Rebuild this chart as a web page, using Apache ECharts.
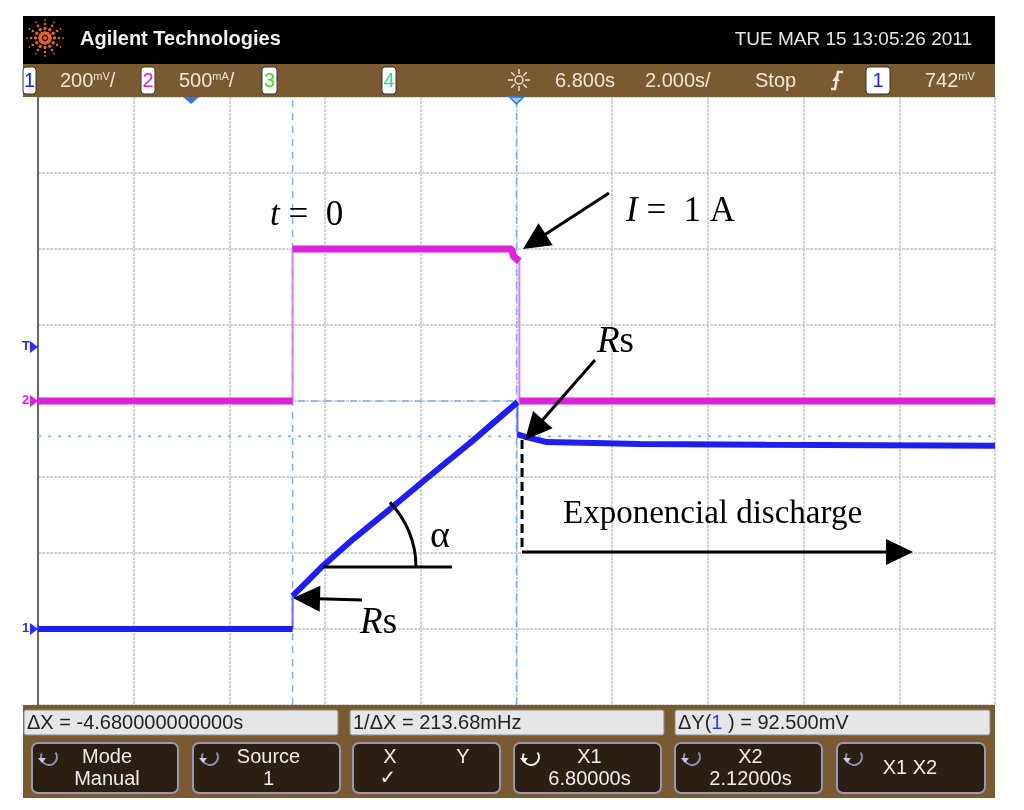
<!DOCTYPE html>
<html><head><meta charset="utf-8">
<script src="https://cdn.jsdelivr.net/npm/echarts@6/dist/echarts.min.js"></script>
<style>html,body{margin:0;padding:0;background:#fff}#c{width:1024px;height:810px}</style>
</head><body><div id="c"></div>
<script>
// ---- Scope settings (2.000 s/div, delay 6.800 s; CH1 200 mV/div; CH2 500 mA/div)
const timeMin = -3.2, timeMax = 16.8;
const ch1Min = -0.2, ch1Max = 1.4;
const ch2Min = -2.0, ch2Max = 2.0;
const triggerLevel = 0.742;
const delayTime = 6.8;

// ---- CH1 (blue, voltage, V)
const ch1Time = [-3.2, 2.12, 2.12, 2.45, 2.75, 3.4, 4.15, 4.92, 5.9, 6.82, 6.82, 7.01, 7.43, 9.37, 12.0, 16.8];
const ch1Volt = [0, 0, 0.087, 0.128, 0.166, 0.238, 0.315, 0.396, 0.497, 0.597, 0.512, 0.505, 0.492, 0.487, 0.485, 0.482];

// ---- CH2 (magenta, current, A)
const ch2Time = [-3.2, 2.12, 2.12, 6.70, 6.74, 6.86, 6.86, 16.8];
const ch2Amp  = [0, 0, 1.0, 1.0, 0.95, 0.92, 0, 0];

// ---- Cursors
const cursorX = [2.12, 6.80];
const cursorY = [0.600, 0.5075];

// ---- Texts
const headerTitle = 'Agilent Technologies';
const headerDate = 'TUE MAR 15 13:05:26 2011';
const readouts = ['ΔX = -4.680000000000s', '1/ΔX = 213.68mHz', 'ΔY({b|1} ) = 92.500mV'];
const softkeyTop = ['Mode', 'Source', '', 'X1', 'X2', ''];
const softkeyBottom = ['Manual', '1', '', '6.80000s', '2.12000s', ''];

const chart = echarts.init(document.getElementById('c'), null, {renderer: 'canvas', width: 1024, height: 810});

const gridLine = {show: true, lineStyle: {color: '#c4c4c4', width: 1.5, type: [3, 1]}};
function pairs(ts, vs) { return ts.map((t, i) => [t, vs[i]]); }
function withGaps(ts, vs) {
  const out = [];
  ts.forEach((t, i) => { if (i > 0 && t === ts[i - 1]) out.push(null); out.push([t, vs[i]]); });
  return out;
}
const cursorColor = '#78b2ee';
function vline(x, dash) {
  return {type: 'line', xAxisIndex: 1, yAxisIndex: 1, data: [[x, ch1Min], [x, ch1Max]], symbol: 'none', silent: true, z: 1,
    lineStyle: {color: cursorColor, width: 1.5, type: dash}};
}
function hline(y, dash) {
  return {type: 'line', xAxisIndex: 1, yAxisIndex: 1, data: [[timeMin, y], [timeMax, y]], symbol: 'none', silent: true, z: 1,
    lineStyle: {color: cursorColor, width: 1.5, type: dash}};
}

chart.setOption({
  backgroundColor: '#ffffff',
  animation: false,
  grid: {left: 38, top: 97, width: 957, height: 608, containLabel: false, outerBoundsMode: 'none'},
  xAxis: [
    {type: 'value', min: 0, max: 10, interval: 1, axisLine: {show: false}, axisTick: {show: false}, axisLabel: {show: false}, splitLine: gridLine},
    {type: 'value', min: timeMin, max: timeMax, show: false}
  ],
  yAxis: [
    {type: 'value', min: 0, max: 8, interval: 1, position: 'left', axisLine: {show: true, onZero: false, lineStyle: {color: '#666', width: 2}}, axisTick: {show: false}, axisLabel: {show: false}, splitLine: gridLine},
    {type: 'value', min: ch1Min, max: ch1Max, show: false},
    {type: 'value', min: ch2Min, max: ch2Max, show: false}
  ],
  series: [
    vline(cursorX[0], [7, 6]),
    vline(cursorX[1], [7, 6]),
    hline(cursorY[0], [7, 6]),
    hline(cursorY[1], [3, 7]),
    {type: 'line', xAxisIndex: 1, yAxisIndex: 2, data: pairs(ch2Time, ch2Amp), symbol: 'none', z: 2, lineStyle: {color: '#e67ae6', width: 2}},
    {type: 'line', xAxisIndex: 1, yAxisIndex: 2, data: withGaps(ch2Time, ch2Amp), symbol: 'none', z: 3, connectNulls: false, lineStyle: {color: '#dd22dd', width: 7}},
    {type: 'line', xAxisIndex: 1, yAxisIndex: 1, data: pairs(ch1Time, ch1Volt), symbol: 'none', z: 4, lineStyle: {color: '#6a6aff', width: 2}},
    {type: 'line', xAxisIndex: 1, yAxisIndex: 1, data: withGaps(ch1Time, ch1Volt), symbol: 'none', z: 5, connectNulls: false, lineStyle: {color: '#1e1ef0', width: 6}},
    {type: 'line', xAxisIndex: 0, yAxisIndex: 0, data: [], symbol: 'none'}
  ]
});

// ---- helpers for pixel conversion
const D = (p) => chart.convertToPixel({xAxisIndex: 0, yAxisIndex: 0}, p);      // graticule divisions
const T1 = (p) => chart.convertToPixel({xAxisIndex: 1, yAxisIndex: 1}, p);     // time / ch1 volts
const T2 = (p) => chart.convertToPixel({xAxisIndex: 1, yAxisIndex: 2}, p);     // time / ch2 amps

const els = [];
const SANS = '"Liberation Sans", Arial, sans-serif';
const SERIF = '"Liberation Serif", "Times New Roman", serif';
function text(x, y, t, o) {
  o = o || {};
  els.push({type: 'text', z: o.z || 50, style: Object.assign({
    text: t, x: x, y: y, fill: '#000', fontFamily: SANS, fontSize: 20,
    align: 'left', verticalAlign: 'middle', textAlign: 'left', textVerticalAlign: 'middle'
  }, o.style || {})});
}
function rect(x, y, w, h, fill, stroke, lw, r) {
  els.push({type: 'rect', z: 40, shape: {x: x, y: y, width: w, height: h, r: r || 0}, style: {fill: fill, stroke: stroke || null, lineWidth: lw || 0}});
}
function arrow(p0, p1, L, W, lw) {
  L = L || 27; W = W || 13; lw = lw || 3;
  const dx = p1[0] - p0[0], dy = p1[1] - p0[1], len = Math.hypot(dx, dy), ux = dx / len, uy = dy / len;
  const bx = p1[0] - ux * L, by = p1[1] - uy * L, nx = -uy, ny = ux;
  els.push({type: 'line', z: 60, shape: {x1: p0[0], y1: p0[1], x2: bx + ux * 2, y2: by + uy * 2}, style: {stroke: '#000', lineWidth: lw}});
  els.push({type: 'polygon', z: 60, shape: {points: [[p1[0], p1[1]], [bx + nx * W, by + ny * W], [bx - nx * W, by - ny * W]]}, style: {fill: '#000'}});
}

// ---- Header
rect(23, 16, 972, 48, '#000');
(function logo() {
  const cx = 45, cy = 38, c = '#e3642c';
  els.push({type: 'circle', z: 45, shape: {cx: cx, cy: cy, r: 2}, style: {fill: c}});
  for (let k = 0; k < 12; k++) {
    const a = k * Math.PI / 6;
    [[5, 2.0], [9.5, 1.7], [14, 1.3], [18, 0.9]].forEach(function (d) {
      els.push({type: 'circle', z: 45, shape: {cx: cx + Math.cos(a) * d[0], cy: cy + Math.sin(a) * d[0], r: d[1]}, style: {fill: c}});
    });
  }
})();
text(80, 39, headerTitle, {style: {fill: '#f2f2f2', fontWeight: 'bold', fontSize: 20}});
text(972, 40, headerDate, {style: {fill: '#e6e6e6', fontSize: 19, align: 'right', textAlign: 'right'}});

// ---- Status bar
rect(23, 64, 972, 33, '#7a5a30');
const STAT = {fill: '#f0e8da', fontSize: 20, fontFamily: SANS, rich: {s: {fontSize: 11, fill: '#f0e8da', fontFamily: SANS, verticalAlign: 'top'}}};
function chBox(x, w, label, color) {
  rect(x, 67, w, 27, '#ffffff', '#333', 1, 3);
  text(x + w / 2, 81, label, {style: {fill: color, fontSize: 20, align: 'center', textAlign: 'center'}});
}
chBox(23, 13, '1', '#1e1eff');
text(60, 81, '200{s|mV}/', {style: STAT});
chBox(141, 14, '2', '#e020e0');
text(179, 81, '500{s|mA}/', {style: STAT});
chBox(262, 15, '3', '#44dd22');
chBox(382, 14, '4', '#22dd99');
// sun (delay) icon
(function sun() {
  const cx = 519, cy = 80;
  els.push({type: 'circle', z: 45, shape: {cx: cx, cy: cy, r: 4}, style: {fill: null, stroke: '#eee4d0', lineWidth: 1.5}});
  for (let k = 0; k < 8; k++) {
    const a = k * Math.PI / 4;
    els.push({type: 'line', z: 45, shape: {x1: cx + Math.cos(a) * 6, y1: cy + Math.sin(a) * 6, x2: cx + Math.cos(a) * 11, y2: cy + Math.sin(a) * 11}, style: {stroke: '#eee4d0', lineWidth: 1.5}});
  }
})();
text(555, 81, '6.800s', {style: STAT});
text(645, 81, '2.000s/', {style: STAT});
text(755, 81, 'Stop', {style: STAT});
els.push({type: 'polyline', z: 45, shape: {points: [[831, 89], [835, 89], [838, 72], [843, 72]]}, style: {stroke: '#f0e8da', lineWidth: 2.5, fill: null}});
els.push({type: 'polygon', z: 45, shape: {points: [[832, 81], [840, 81], [836, 76]]}, style: {fill: '#f0e8da'}});
chBox(866, 24, '1', '#1e1eff');
text(925, 81, '742{s|mV}', {style: STAT});

// ---- Bottom frame
rect(23, 705, 972, 93, '#7a5a30');
const rbx = [[24, 314], [350, 314], [675, 315]];
rbx.forEach(function (b, i) {
  rect(b[0], 710, b[1], 25, '#e6e6e6', '#8c8c8c', 1, 2);
  text(b[0] + 3, 723, readouts[i], {style: {fill: '#222', fontSize: 20, rich: {b: {fill: '#2a3cff', fontSize: 20, fontFamily: SANS}}}});
});
const btns = [[32, 178], [193, 340], [353, 500], [514, 661], [675, 822], [837, 985]];
btns.forEach(function (b, i) {
  rect(b[0], 743, b[1] - b[0], 50, '#2b1e12', '#9898b0', 2, 6);
  const cx = (b[0] + b[1]) / 2;
  if (i !== 2) {
    const ix = b[0] + 17, iy = 757;
    const bright = (i === 3);
    els.push({type: 'arc', z: 45, shape: {cx: ix, cy: iy, r: 8, startAngle: -0.6, endAngle: 3.6, clockwise: true}, style: {stroke: bright ? '#f0f0f0' : '#8890b8', lineWidth: 2, fill: null}});
    els.push({type: 'polygon', z: 46, shape: {points: [[ix - 11, iy + 1], [ix - 3, iy + 1], [ix - 7, iy + 6]]}, style: {fill: bright ? '#f0f0f0' : '#c8cce0'}});
  }
  const W = {fill: '#eeeeee', fontSize: 20, align: 'center', textAlign: 'center'};
  if (softkeyTop[i]) text(cx + 2, 757, softkeyTop[i], {style: W});
  if (softkeyBottom[i]) text(cx + 2, 779, softkeyBottom[i], {style: W});
});
text(390, 757, 'X', {style: {fill: '#eeeeee', fontSize: 20, align: 'center', textAlign: 'center'}});
text(463, 757, 'Y', {style: {fill: '#eeeeee', fontSize: 20, align: 'center', textAlign: 'center'}});
text(388, 779, '✓', {style: {fill: '#eeeeee', fontSize: 20, fontFamily: '"DejaVu Sans", sans-serif', align: 'center', textAlign: 'center'}});
text(910, 768, 'X1 X2', {style: {fill: '#eeeeee', fontSize: 20, align: 'center', textAlign: 'center'}});

// ---- Graticule markers (from data)
(function markers() {
  const gnd1 = T1([timeMin, 0])[1], gnd2 = T2([timeMin, 0])[1], trig = T1([timeMin, triggerLevel])[1];
  const left = T1([timeMin, 0])[0];
  function lm(y, label, color) {
    els.push({type: 'polygon', z: 45, shape: {points: [[left, y], [left - 8, y - 6], [left - 8, y + 6]]}, style: {fill: color}});
    text(left - 16, y - 1, label, {style: {fill: color, fontSize: 13, fontWeight: 'bold'}});
  }
  lm(gnd1, '1', '#2a2aff');
  lm(gnd2, '2', '#e020e0');
  lm(trig, 'T', '#2a2aff');
  const top = T1([0, ch1Max])[1];
  const x0 = T1([0, 0])[0], xd = T1([delayTime, 0])[0];
  els.push({type: 'polygon', z: 45, shape: {points: [[x0 - 8, top], [x0 + 8, top], [x0, top + 7]]}, style: {fill: '#2a7ae8'}});
  els.push({type: 'polygon', z: 45, shape: {points: [[xd - 7, top], [xd + 7, top], [xd, top + 7]]}, style: {fill: '#9cc8f4', stroke: '#2a7ae8', lineWidth: 1.5}});
})();

// ---- Annotations (positions in graticule divisions)
const annT0 = [2.424, 6.44], annI = [6.144, 6.487], annRsTop = [5.841, 4.776], annRsBot = [3.365, 1.079];
const annAlpha = [4.096, 2.21], annExp = [5.486, 2.513];
const arrI = [[5.967, 6.737], [5.068, 6.0]];
const arrRsTop = [[5.820, 4.539], [5.089, 3.487]];
const arrRsBot = [[3.386, 1.382], [2.665, 1.408]];
const arrExp = [[5.058, 2.013], [9.143, 2.013]];
const dashV = [[5.058, 3.487], [5.058, 2.05]];
const angleLine = [[2.978, 1.816], [4.326, 1.816]];

(function annotations() {
  function serif(size) {
    return {fontFamily: SERIF, fontSize: size, fontStyle: 'normal', fill: '#000',
      rich: {i: {fontStyle: 'italic', fontFamily: SERIF, fontSize: size, fill: '#000'}, n: {fontStyle: 'normal', fontFamily: SERIF, fontSize: size, fill: '#000'}}};
  }
  let p = D(annT0); text(p[0], p[1], '{i|t}{n| =  0}', {style: serif(35)});
  p = D(annI); text(p[0], p[1], '{i|I}{n| =  1 A}', {style: serif(35)});
  p = D(annRsTop); text(p[0], p[1], '{i|R}{n|s}', {style: serif(37)});
  p = D(annRsBot); text(p[0], p[1], '{i|R}{n|s}', {style: serif(37)});
  p = D(annAlpha); text(p[0], p[1], 'α', {style: {fontFamily: SERIF, fontSize: 38, fill: '#000'}});
  p = D(annExp); text(p[0], p[1], 'Exponencial discharge', {style: {fontFamily: SERIF, fontSize: 33, fill: '#000'}});
  arrow(D(arrI[0]), D(arrI[1]));
  arrow(D(arrRsTop[0]), D(arrRsTop[1]));
  arrow(D(arrRsBot[0]), D(arrRsBot[1]));
  arrow(D(arrExp[0]), D(arrExp[1]));
  const a = D(dashV[0]), b = D(dashV[1]);
  els.push({type: 'line', z: 60, shape: {x1: a[0], y1: a[1], x2: b[0], y2: b[1]}, style: {stroke: '#000', lineWidth: 3, lineDash: [9, 5]}});
  const l0 = D(angleLine[0]), l1 = D(angleLine[1]);
  els.push({type: 'line', z: 60, shape: {x1: l0[0], y1: l0[1], x2: l1[0], y2: l1[1]}, style: {stroke: '#000', lineWidth: 3}});
  els.push({type: 'arc', z: 60, shape: {cx: l0[0], cy: l0[1], r: 93, startAngle: -44 * Math.PI / 180, endAngle: 0, clockwise: true}, style: {stroke: '#000', lineWidth: 3, fill: null}});
})();

chart.setOption({graphic: {elements: els}});
</script>
</body></html>
